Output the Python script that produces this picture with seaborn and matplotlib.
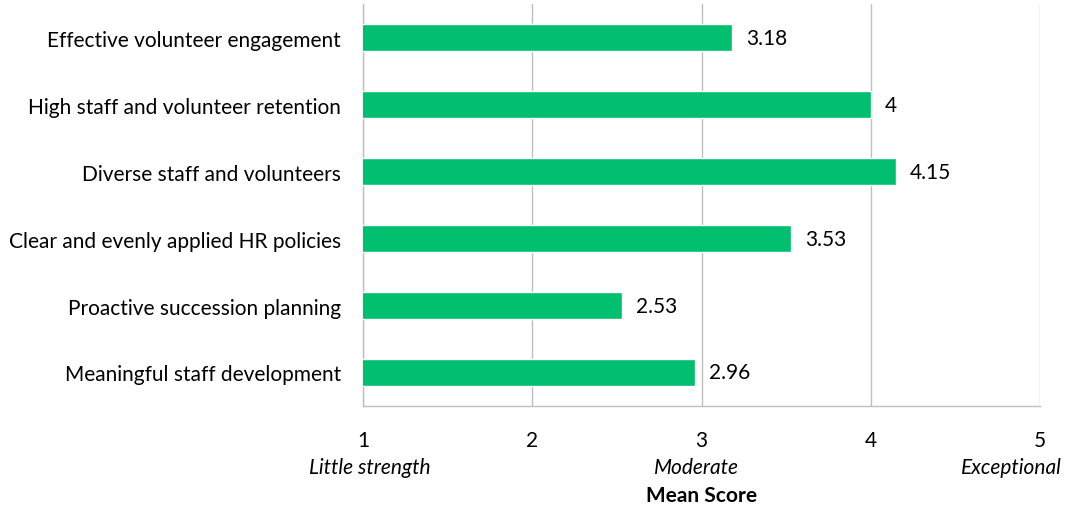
import matplotlib
matplotlib.use("Agg")
import matplotlib.pyplot as plt
import seaborn as sns
import pandas as pd
import numpy as np

categories = [
    "Effective volunteer engagement",
    "High staff and volunteer retention",
    "Diverse staff and volunteers",
    "Clear and evenly applied HR policies",
    "Proactive succession planning",
    "Meaningful staff development",
]
scores = [3.18, 4, 4.15, 3.53, 2.53, 2.96]
score_labels = ["3.18", "4", "4.15", "3.53", "2.53", "2.96"]
x_ticks = [1, 2, 3, 4, 5]
anchor_labels = ["Little strength", "Moderate", "Exceptional"]

sns.set_theme(style="white")
plt.rcParams["font.family"] = ["Lato", "DejaVu Sans"]

df = pd.DataFrame({"category": categories, "score": scores})

fig = plt.figure(figsize=(10.65, 5.1), dpi=100)
ax = fig.add_axes([0.341, 0.202, 0.6355, 0.788])

green = "#00C070"
fs = 15
sns.barplot(data=df, x="score", y="category", orient="h", color=green,
            width=0.4, saturation=1, ax=ax, zorder=3)

ax.set_xlim(1, 5)
ax.set_ylim(len(categories) - 0.5, -0.5)
ax.set_xticks(x_ticks)
ax.set_xticklabels([str(t) for t in x_ticks], fontsize=fs, color="#000000")
ax.tick_params(axis="x", direction="out", length=7, width=1, color="#BFBFBF", pad=10)

# category labels on the left, boundary ticks as minor ticks
ax.set_yticks(range(len(categories)))
ax.set_yticklabels(categories, fontsize=fs, color="#000000")
ax.tick_params(axis="y", which="major", length=0, pad=16)
ax.set_yticks(np.arange(-0.5, len(categories), 1), minor=True)
ax.tick_params(axis="y", which="minor", direction="out", length=6, width=1, color="#BFBFBF")

ax.grid(axis="x", color="#BFBFBF", linewidth=1, zorder=0)
ax.set_axisbelow(True)
for side in ["top", "right"]:
    ax.spines[side].set_visible(False)
for side in ["left", "bottom"]:
    ax.spines[side].set_color("#BFBFBF")
    ax.spines[side].set_linewidth(1)

ax.set_xlabel("")
ax.set_ylabel("")

for i, (v, lab) in enumerate(zip(scores, score_labels)):
    ax.annotate(lab, xy=(v, i), xytext=(10, 0), textcoords="offset points",
                ha="left", va="center", fontsize=fs, color="#000000")

trans = ax.get_xaxis_transform()
ax.text(1.04, -0.152, anchor_labels[0], transform=trans, ha="center", va="center",
        fontsize=fs, style="italic", color="#000000")
ax.text(2.97, -0.152, anchor_labels[1], transform=trans, ha="center", va="center",
        fontsize=fs, style="italic", color="#000000")
fig.text(1062 / 1065, 1 - 468 / 510, anchor_labels[2], ha="right", va="center",
         fontsize=fs, style="italic", color="#000000")

ax.text(3, -0.221, "Mean Score", transform=trans, ha="center", va="center",
        fontsize=fs, fontweight="bold", color="#000000")

fig.savefig("out.png", dpi=100)
